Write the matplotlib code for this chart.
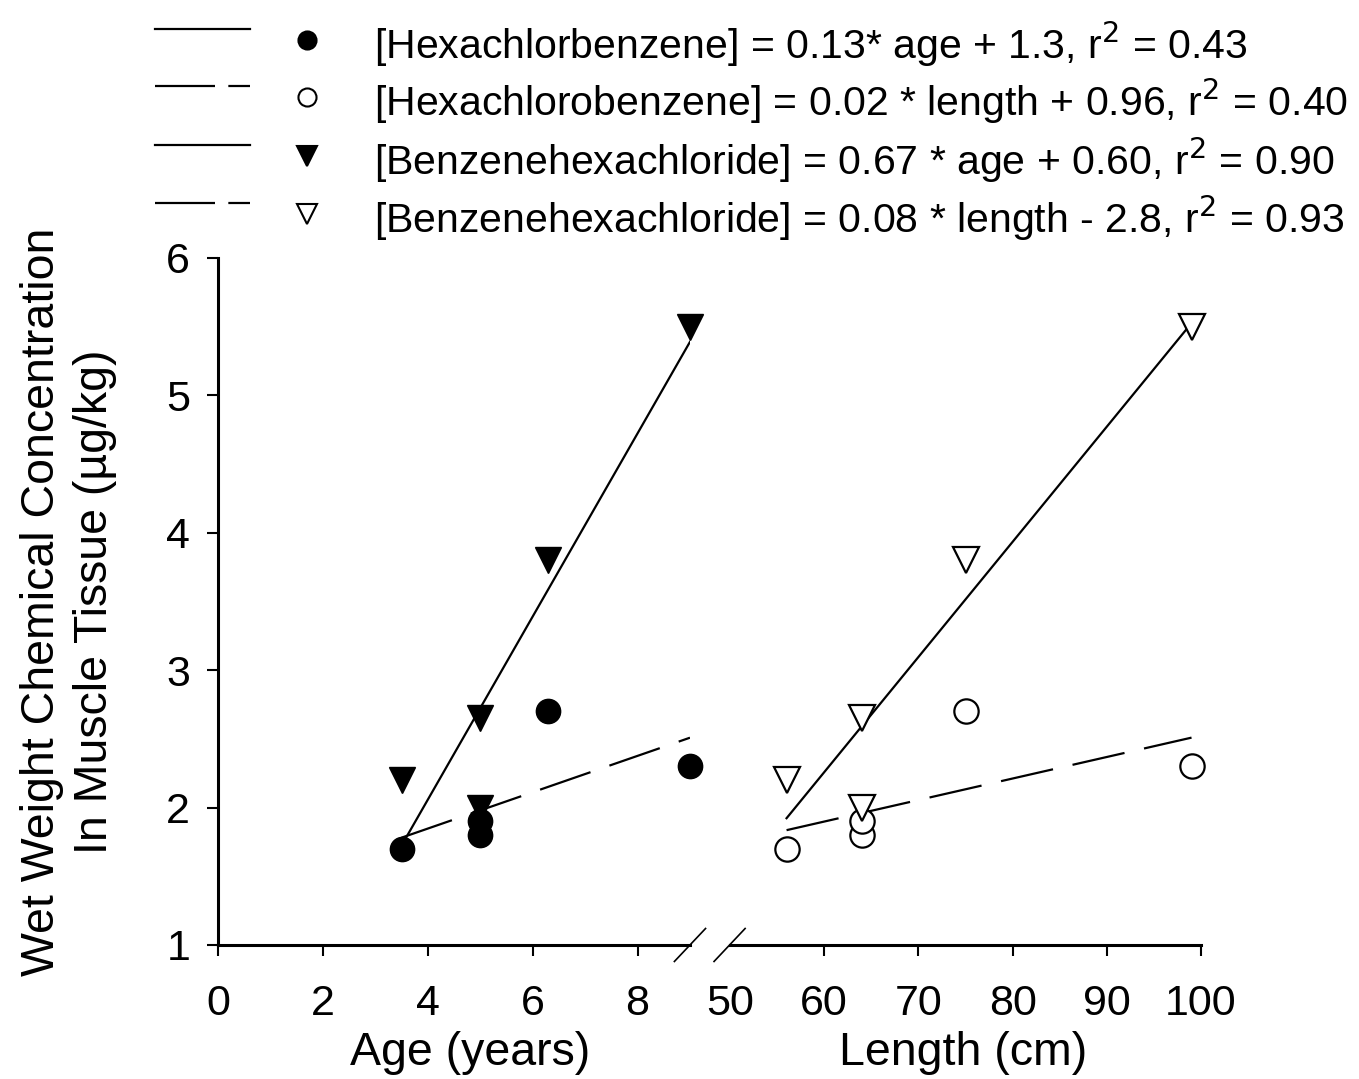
import numpy as np
import matplotlib
matplotlib.use("Agg")
import matplotlib.pyplot as plt
from matplotlib.lines import Line2D

plt.rcParams['font.family'] = ['Liberation Sans', 'DejaVu Sans']

# Data
age = [3.5, 5.0, 5.0, 6.3, 9.0]
length = [56, 64, 64, 75, 99]
hcb = [1.7, 1.8, 1.9, 2.7, 2.3]
bhc = [2.2, 2.65, 2.0, 3.8, 5.5]

legend_labels = [
    "[Hexachlorbenzene] = 0.13* age + 1.3, r$^{2}$ = 0.43",
    "[Hexachlorobenzene] = 0.02 * length + 0.96, r$^{2}$ = 0.40",
    "[Benzenehexachloride] = 0.67 * age + 0.60, r$^{2}$ = 0.90",
    "[Benzenehexachloride] = 0.08 * length - 2.8, r$^{2}$ = 0.93",
]

tick_fs = 31
label_fs = 33.5
legend_fs = 29.5
dash = (24, 9)

fig = plt.figure(figsize=(13.59, 10.79), dpi=100)
ax1 = fig.add_axes([0.1604, 0.1242, 0.3473, 0.6367])
ax2 = fig.add_axes([0.5372, 0.1242, 0.3465, 0.6367], sharey=ax1)


def fit_line(ax, x, y, ls):
    m, b = np.polyfit(x, y, 1)
    xs = np.array([min(x), max(x)])
    line, = ax.plot(xs, m * xs + b, color='black', lw=1.6, zorder=2)
    if ls == 'dashed':
        line.set_dashes(dash)
    return line


# left panel: age
fit_line(ax1, age, hcb, 'dashed')
fit_line(ax1, age, bhc, 'solid')
ax1.plot(age, hcb, 'o', ms=17.5, color='black', clip_on=False, zorder=3)
ax1.plot(age, bhc, 'v', ms=19, color='black', clip_on=False, zorder=3)

# right panel: length
fit_line(ax2, length, hcb, 'dashed')
fit_line(ax2, length, bhc, 'solid')
ax2.plot(length, hcb, 'o', ms=17.5, mfc='white', mec='black', mew=1.6,
         clip_on=False, zorder=3)
ax2.plot(length, bhc, 'v', ms=19, mfc='white', mec='black', mew=1.6,
         clip_on=False, zorder=3)

ax1.set_xlim(0, 9)
ax1.set_ylim(1, 6)
ax1.set_xticks([0, 2, 4, 6, 8])
ax1.set_yticks([1, 2, 3, 4, 5, 6])
ax2.set_xlim(50, 100)
ax2.set_xticks([50, 60, 70, 80, 90, 100])

for ax in (ax1, ax2):
    for s in ('top', 'right'):
        ax.spines[s].set_visible(False)
    for s in ('left', 'bottom'):
        ax.spines[s].set_linewidth(2.2)
    ax.tick_params(direction='out', length=8, width=1.5, labelsize=tick_fs, pad=12)
    ax.tick_params(axis='x', pad=20)
    ax.set_facecolor('none')

ax2.spines['left'].set_visible(False)
ax2.tick_params(axis='y', left=False, labelleft=False)
# no tick mark at 50, only the label
ax2.xaxis.get_major_ticks()[0].tick1line.set_visible(False)

ax1.set_xlabel("Age (years)", fontsize=label_fs)
ax2.set_xlabel("Length (cm)", fontsize=label_fs)
ax1.xaxis.set_label_coords(0.534, -0.125)
ax2.xaxis.set_label_coords(0.495, -0.125)
ax1.set_ylabel("Wet Weight Chemical Concentration\nIn Muscle Tissue (\u00b5g/kg)",
               fontsize=label_fs, linespacing=1.25)
ax1.yaxis.set_label_coords(-0.215, 0.5)

# axis break marks
kw = dict(color='black', lw=1.2, clip_on=False)
ax1.plot([0.967, 1.033], [-0.024, 0.024], transform=ax1.transAxes, **kw)
ax2.plot([-0.034, 0.032], [-0.024, 0.024], transform=ax2.transAxes, **kw)

# legend drawn at the top
rows_y = [1 - 44 / 1079, 1 - 101 / 1079, 1 - 160 / 1079, 1 - 218 / 1079]
styles = ['solid', 'dashed', 'solid', 'dashed']
markers = [('o', 'black', 13), ('o', 'white', 13), ('v', 'black', 15), ('v', 'white', 15)]
for yy, st, (mk, fc, ms), lab in zip(rows_y, styles, markers, legend_labels):
    ln = Line2D([155 / 1359, 250 / 1359], [yy + 0.014, yy + 0.014],
                transform=fig.transFigure, color='black', lw=1.6)
    if st == 'dashed':
        ln.set_dashes((27, 6, 10, 20))
    fig.add_artist(ln)
    fig.add_artist(Line2D([307 / 1359], [yy + 0.004], transform=fig.transFigure,
                          marker=mk, ms=ms, mfc=fc, mec='black', mew=1.5,
                          ls='none'))
    fig.text(374 / 1359, yy, lab, fontsize=legend_fs, va='center', ha='left')

fig.savefig("out.png", dpi=100)
